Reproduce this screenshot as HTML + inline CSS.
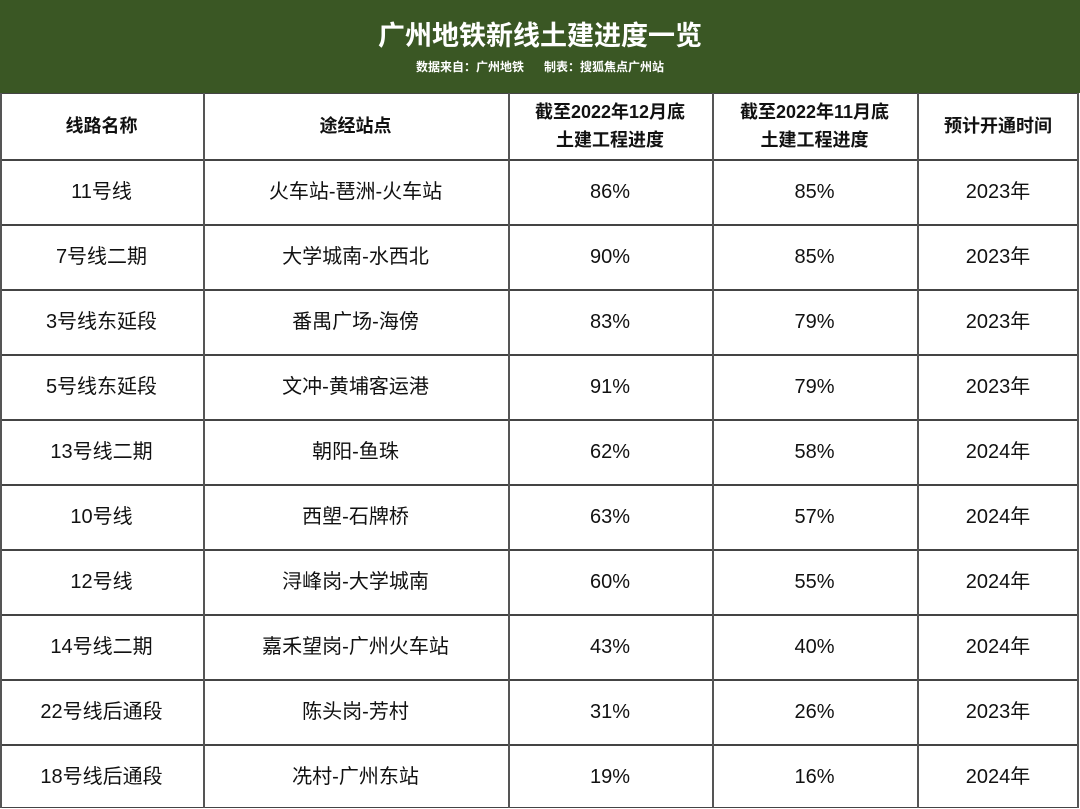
<!DOCTYPE html>
<html><head><meta charset="utf-8"><style>
body{margin:0;width:1080px;height:809px;background:#fff;font-family:"Liberation Sans","Noto Sans CJK SC",sans-serif;position:relative;overflow:hidden}
#band{position:absolute;left:0;top:0;width:1080px;height:93px;background:#3a5724}
#title{position:absolute;left:0;width:1080px;top:17px;text-align:center;color:#fff;font-weight:bold;font-size:27px;line-height:38px}
#sub{position:absolute;left:0;width:1080px;top:59px;text-align:center;color:#fff;font-weight:bold;font-size:12px;line-height:16px}
.hl{position:absolute;left:0;width:1079px;height:1.5px;background:#444}
.vl{position:absolute;top:93px;height:715px;width:1.5px;background:#555}
.c{position:absolute;text-align:center;display:flex;align-items:center;justify-content:center;font-size:20px;color:#111;line-height:28px}
.h{font-weight:bold;font-size:18px}
</style></head><body>
<div id="band"></div>
<div id="title">广州地铁新线土建进度一览</div>
<div id="sub">数据来自：广州地铁&nbsp;&nbsp;&nbsp;&nbsp;&nbsp;&nbsp;制表：搜狐焦点广州站</div>
<div id="t"></div>
<script>
const lines=["11号线","7号线二期","3号线东延段","5号线东延段","13号线二期","10号线","12号线","14号线二期","22号线后通段","18号线后通段"];
const stations=["火车站-琶洲-火车站","大学城南-水西北","番禺广场-海傍","文冲-黄埔客运港","朝阳-鱼珠","西塱-石牌桥","浔峰岗-大学城南","嘉禾望岗-广州火车站","陈头岗-芳村","冼村-广州东站"];
const dec=[86,90,83,91,62,63,60,43,31,19];
const nov=[85,85,79,79,58,57,55,40,26,16];
const years=[2023,2023,2023,2023,2024,2024,2024,2024,2023,2024];
const headers=["线路名称","途经站点","截至2022年12月底<br>土建工程进度","截至2022年11月底<br>土建工程进度","预计开通时间"];
const cols=[0,203,508,712,917,1079];
const t=document.getElementById('t');
function cell(ci,top,h,html,cls,name){const d=document.createElement('div');d.className='c '+cls;d.style.left=cols[ci]+'px';d.style.width=(cols[ci+1]-cols[ci])+'px';d.style.top=top+'px';d.style.height=h+'px';d.innerHTML=html;


t.appendChild(d);}
headers.forEach((h,i)=>cell(i,93,66,h,'h','header-cell'));
const names=['line-name','stations','dec-progress','nov-progress','open-year'];
lines.forEach((l,r)=>{const top=159+r*65;const vals=[l,stations[r],dec[r]+'%',nov[r]+'%',years[r]+'年'];
vals.forEach((v,i)=>cell(i,top,65,v,'',names[i]+'-cell'));});
for(let r=0;r<=11;r++){const d=document.createElement('div');d.className='hl';d.style.top=(r===0?92.5:(r===11?806.5:94+r*65))+'px';


t.appendChild(d);}
cols.forEach(x=>{const d=document.createElement('div');d.className='vl';d.style.left=(x===1079?1077:x)+'px';


t.appendChild(d);});
</script>
</body></html>
